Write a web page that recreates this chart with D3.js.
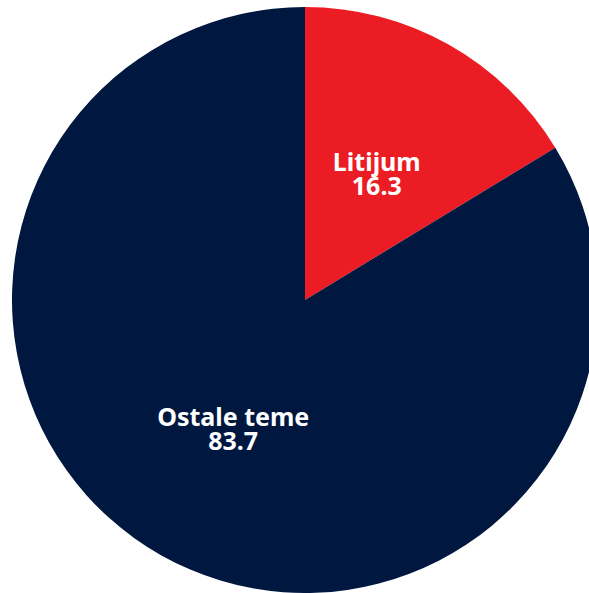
<!DOCTYPE html>
<html>
<head>
<meta charset="utf-8">
<script src="https://cdn.jsdelivr.net/npm/d3@7"></script>
<style>
  body { margin: 0; background: #fff; overflow: hidden; }
</style>
</head>
<body>
<div id="chart"></div>
<script>
// data
var categories = ["Litijum", "Ostale teme"];
var values = [16.3, 83.7];
var colors = ["#ec1c24", "#00173f"];

var width = 589, height = 593;
var cx = 305, cy = 300, radius = 293;

var svg = d3.select("#chart").append("svg")
    .attr("width", width)
    .attr("height", height);

var g = svg.append("g")
    .attr("transform", "translate(" + cx + "," + cy + ")");

var pie = d3.pie().sort(null).value(function (d) { return d.value; });
var arc = d3.arc().innerRadius(0).outerRadius(radius);
var labelArc = d3.arc().innerRadius(radius * 0.5).outerRadius(radius * 0.5);

var data = categories.map(function (c, i) {
    return {name: c, value: values[i], color: colors[i]};
});

var arcs = pie(data);

g.selectAll("path")
    .data(arcs)
    .enter().append("path")
    .attr("d", arc)
    .attr("fill", function (d) { return d.data.color; });

var labels = g.selectAll("text")
    .data(arcs)
    .enter().append("text")
    .attr("transform", function (d) {
        var c = labelArc.centroid(d);
        return "translate(" + c[0] + "," + (c[1] + 1) + ")";
    })
    .attr("text-anchor", "middle")
    .style("font-family", "'Noto Sans', sans-serif")
    .style("font-weight", "bold")
    .style("font-size", "25px")
    .style("fill", "#fff");

labels.append("tspan")
    .attr("x", 0)
    .attr("dy", "-0.1em")
    .text(function (d) { return d.data.name; });

labels.append("tspan")
    .attr("x", 0)
    .attr("dy", "0.96em")
    .text(function (d) { return d.data.value; });
</script>
</body>
</html>
